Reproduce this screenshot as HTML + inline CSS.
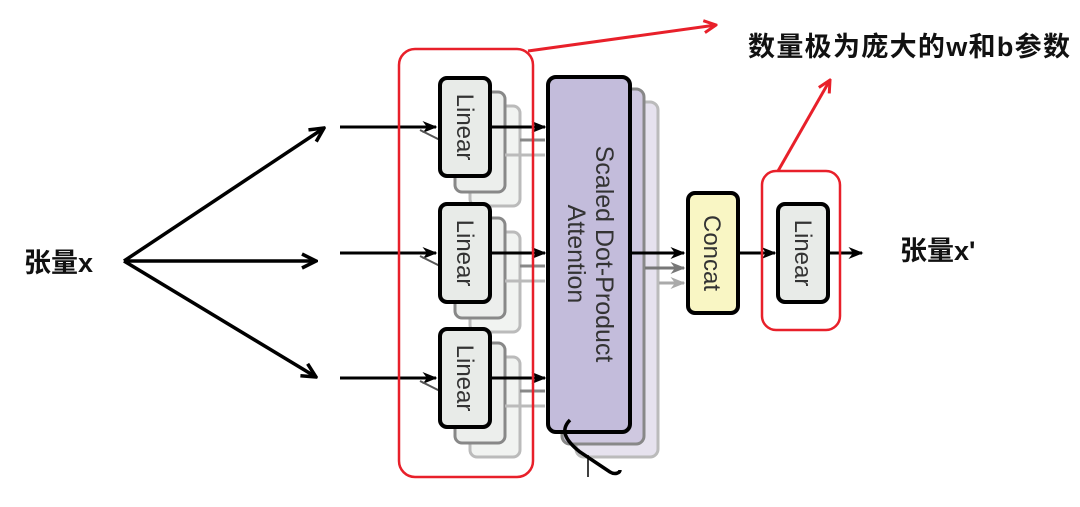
<!DOCTYPE html>
<html><head><meta charset="utf-8"><style>
html,body{margin:0;padding:0;background:#fff;width:1080px;height:507px;overflow:hidden}
svg{display:block}
.t{font-family:"Liberation Sans","Noto Sans CJK SC",sans-serif;font-weight:bold;fill:#111}
.v{font-family:"Liberation Sans",sans-serif;fill:#333}
</style></head><body>
<svg width="1080" height="507" viewBox="0 0 1080 507" xmlns="http://www.w3.org/2000/svg">
<defs>
<marker id="a" viewBox="0 0 10 10" refX="9" refY="5" markerWidth="5" markerHeight="5" orient="auto"><path d="M1,1 L9,5 L1,9" fill="none" stroke="#000" stroke-width="2"/></marker>
<marker id="s" viewBox="0 0 10 10" refX="9" refY="5" markerWidth="5" markerHeight="5" orient="auto"><path d="M0,1 L10,5 L0,9 L3,5z" fill="#000"/></marker>
<marker id="sg" viewBox="0 0 10 10" refX="9" refY="5" markerWidth="5" markerHeight="5" orient="auto"><path d="M0,1 L10,5 L0,9 L3,5z" fill="#777"/></marker>
<marker id="sl" viewBox="0 0 10 10" refX="9" refY="5" markerWidth="5" markerHeight="5" orient="auto"><path d="M0,1 L10,5 L0,9 L3,5z" fill="#aaa"/></marker>
<marker id="r" viewBox="0 0 10 10" refX="9" refY="5" markerWidth="5" markerHeight="5" orient="auto"><path d="M1,1 L9,5 L1,9" fill="none" stroke="#e8202a" stroke-width="2"/></marker>
</defs>

<g stroke="#000" stroke-width="3.5" fill="none">
<line x1="124" y1="261" x2="324" y2="128" marker-end="url(#a)"/>
<line x1="124" y1="261" x2="316" y2="261" marker-end="url(#a)"/>
<line x1="124" y1="261" x2="316" y2="377" marker-end="url(#a)"/>
</g>

<g id="lin">
<rect x="470" y="106" width="50" height="100" rx="7" fill="#f1f3f1" stroke="#bbb" stroke-width="3"/>
<rect x="455" y="92" width="50" height="100" rx="7" fill="#eceeec" stroke="#888" stroke-width="3"/>
<line x1="505" y1="155" x2="545" y2="155" stroke="#bbb" stroke-width="3"/>
<line x1="520" y1="140" x2="545" y2="140" stroke="#888" stroke-width="3"/>
<line x1="340" y1="127" x2="436" y2="127" stroke="#000" stroke-width="3" marker-end="url(#s)"/>
<line x1="420" y1="130" x2="440" y2="140" stroke="#555" stroke-width="2"/>
<rect x="440" y="78" width="50" height="98" rx="7" fill="#e8ebe8" stroke="#000" stroke-width="4"/>
<line x1="490" y1="127" x2="545" y2="127" stroke="#000" stroke-width="3" marker-end="url(#s)"/>
<text class="v" font-size="24" transform="translate(457,127) rotate(90)" text-anchor="middle">Linear</text>
</g>
<use href="#lin" y="126"/>
<use href="#lin" y="251"/>

<rect x="576" y="102" width="82" height="355" rx="8" fill="#e6e2ee" stroke="#bbb" stroke-width="3"/>
<rect x="562" y="89" width="82" height="355" rx="8" fill="#cfc8e0" stroke="#888" stroke-width="3"/>
<rect x="548" y="77" width="82" height="355" rx="8" fill="#c3bcdb" stroke="#000" stroke-width="4"/>
<path d="M570,420 C560,430 565,440 580,452 L610,472 C615,475 620,473 620,470" fill="none" stroke="#000" stroke-width="3.5"/>
<line x1="588" y1="455" x2="588" y2="477" stroke="#000" stroke-width="1.5"/>
<text class="v" font-size="25" transform="translate(596,254) rotate(90)" text-anchor="middle">Scaled Dot-Product</text>
<text class="v" font-size="25" transform="translate(568,254) rotate(90)" text-anchor="middle">Attention</text>

<line x1="630" y1="253" x2="684" y2="253" stroke="#000" stroke-width="3" marker-end="url(#s)"/>
<line x1="645" y1="268" x2="684" y2="268" stroke="#777" stroke-width="3" marker-end="url(#sg)"/>
<line x1="659" y1="283" x2="684" y2="283" stroke="#aaa" stroke-width="3" marker-end="url(#sl)"/>

<rect x="688" y="193" width="50" height="120" rx="7" fill="#f9f6c4" stroke="#000" stroke-width="4"/>
<text class="v" font-size="24" transform="translate(704,253) rotate(90)" text-anchor="middle">Concat</text>
<line x1="738" y1="253" x2="775" y2="253" stroke="#000" stroke-width="3" marker-end="url(#s)"/>
<rect x="778" y="204" width="50" height="98" rx="7" fill="#e8ebe8" stroke="#000" stroke-width="4"/>
<text class="v" font-size="24" transform="translate(795,253) rotate(90)" text-anchor="middle">Linear</text>
<line x1="828" y1="253" x2="862" y2="253" stroke="#000" stroke-width="3" marker-end="url(#s)"/>

<rect x="399" y="49" width="134" height="428" rx="16" fill="none" stroke="#e8202a" stroke-width="2.5"/>
<rect x="762" y="171" width="78" height="159" rx="14" fill="none" stroke="#e8202a" stroke-width="2.5"/>
<line x1="528" y1="51" x2="716" y2="25" stroke="#e8202a" stroke-width="3" marker-end="url(#r)"/>
<line x1="778" y1="171" x2="830" y2="80" stroke="#e8202a" stroke-width="3" marker-end="url(#r)"/>

<text class="t" x="748" y="56" font-size="27" textLength="322">数量极为庞大的w和b参数</text>
<text class="t" x="24" y="272" font-size="27">张量x</text>
<text class="t" x="900" y="260" font-size="27">张量x'</text>
</svg>
</body></html>
